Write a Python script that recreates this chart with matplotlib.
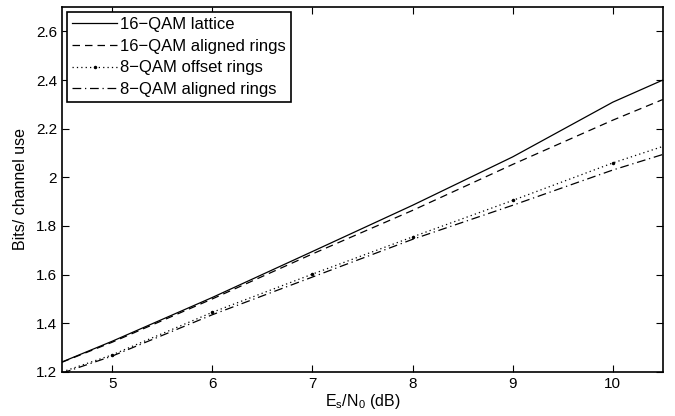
import matplotlib
matplotlib.use("Agg")
import matplotlib.pyplot as plt

plt.rcParams['font.family'] = ['Liberation Sans', 'DejaVu Sans']
plt.rcParams['mathtext.fontset'] = 'custom'
plt.rcParams['mathtext.rm'] = 'Liberation Sans'
plt.rcParams['mathtext.it'] = 'Liberation Sans'
plt.rcParams['mathtext.default'] = 'regular'

snr = [4.5, 5, 6, 7, 8, 9, 10, 10.5]
qam16_lattice = [1.241, 1.326, 1.506, 1.695, 1.885, 2.084, 2.309, 2.40]
qam16_aligned = [1.240, 1.322, 1.500, 1.685, 1.864, 2.053, 2.235, 2.32]
qam8_offset = [1.200, 1.270, 1.445, 1.602, 1.755, 1.905, 2.059, 2.127]
qam8_aligned = [1.195, 1.265, 1.435, 1.590, 1.745, 1.885, 2.030, 2.094]
labels = ['16\u2212QAM lattice', '16\u2212QAM aligned rings',
          '8\u2212QAM offset rings', '8\u2212QAM aligned rings']
xticks = [5, 6, 7, 8, 9, 10]
yticks = [1.2, 1.4, 1.6, 1.8, 2.0, 2.2, 2.4, 2.6]
ytick_labels = ['1.2', '1.4', '1.6', '1.8', '2', '2.2', '2.4', '2.6']

fig = plt.figure(figsize=(6.75, 4.16), dpi=100)
ax = fig.add_axes([0.092, 0.106, 0.890, 0.877])

ax.plot(snr, qam16_lattice, color='black', lw=0.9, ls='-', label=labels[0])
ax.plot(snr, qam16_aligned, color='black', lw=0.9, ls=(0, (6, 4)), label=labels[1])
ax.plot(snr, qam8_offset, color='black', lw=0.9, ls=(0, (1, 2.5)), marker='.',
        markersize=3, markevery=list(range(1, 7)), label=labels[2])
ax.plot(snr, qam8_aligned, color='black', lw=0.9, ls=(0, (7, 3, 1, 3)), label=labels[3])

ax.set_xlim(4.5, 10.5)
ax.set_ylim(1.2, 2.7)
ax.set_xticks(xticks)
ax.set_xticklabels([str(t) for t in xticks])
ax.set_yticks(yticks)
ax.set_yticklabels(ytick_labels)
ax.tick_params(direction='in', top=True, right=True, labelsize=11, length=5, width=0.8)
for s in ax.spines.values():
    s.set_linewidth(1.2)

ax.set_xlabel(r'E$_s$/N$_0$ (dB)', fontsize=11.5, labelpad=1)
ax.set_ylabel('Bits/ channel use', fontsize=11.5, labelpad=6)

leg = ax.legend(loc='upper left', fontsize=12, frameon=True, fancybox=False,
                framealpha=1, edgecolor='black', handlelength=2.7,
                borderaxespad=0.3, labelspacing=0.4, handletextpad=0.2,
                borderpad=0.3)
leg.get_frame().set_linewidth(1.2)

fig.savefig('out.png', dpi=100)
